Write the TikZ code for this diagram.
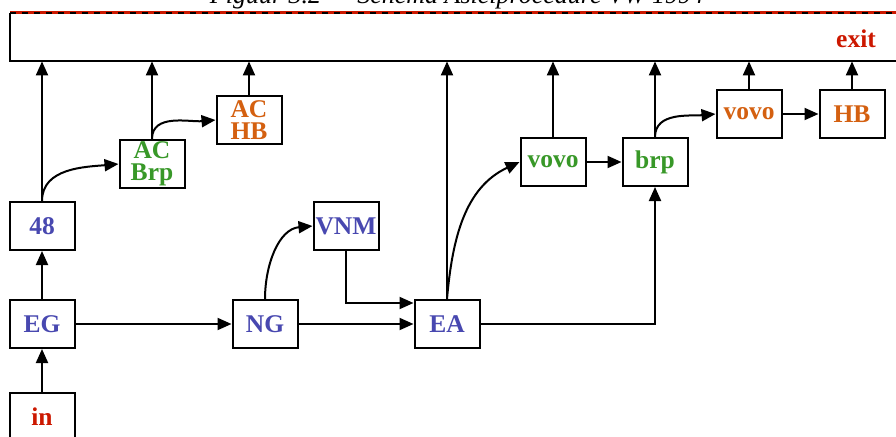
\documentclass[tikz,border=0pt]{standalone}
\usepackage{fontspec}
\setmainfont{Liberation Serif}
\usetikzlibrary{arrows.meta,calc}
\definecolor{blueT}{RGB}{72,72,176}
\definecolor{greenT}{RGB}{56,152,40}
\definecolor{orangeT}{RGB}{212,96,16}
\definecolor{redT}{RGB}{204,24,0}
\tikzset{
  stepbox/.style={draw=black, line width=2pt, fill=white, minimum width=65pt, minimum height=48pt, inner sep=0pt, align=center, font=\fontsize{25.5}{22}\selectfont\bfseries},
  conn/.style={line width=2pt, -{Triangle[length=14pt,width=12pt]}},
  plain/.style={line width=2pt},
}
\begin{document}
\begin{tikzpicture}[x=1pt,y=1pt]
\useasboundingbox (0,0) rectangle (896,-436);
% caption (clipped at top)
\node[anchor=base, font=\fontsize{26}{30}\selectfont\itshape, inner sep=0pt] (cap) at (457,-4) {Figuur 3.2 — Schema Asielprocedure VW 1994};
% exit box
\node[minimum width=920pt, minimum height=48pt, inner sep=0pt, anchor=north west] (exit) at (10,-13) {};
\draw[plain] (exit.north west) -- (exit.south west) -- (exit.south east);
\draw[line width=3pt, redT] (exit.north west) -- (exit.north east);
\draw[line width=1.2pt, black, dash pattern=on 6pt off 6pt, yshift=0.6pt] (exit.north west) -- (exit.north east);
\node[font=\fontsize{25.5}{22}\selectfont\bfseries, text=redT, anchor=base] (exittxt) at (856,-48) {exit};
% nodes
\node[stepbox, text=redT] (in) at (42,-417) {in};
\node[stepbox, text=blueT] (EG) at (42,-324) {EG};
\node[stepbox, text=blueT] (n48) at (42,-226) {48};
\node[stepbox, text=greenT] (ACBrp) at (152,-164) {AC\\Brp};
\node[stepbox, text=orangeT] (ACHB) at (249,-120) {AC\\HB};
\node[stepbox, text=blueT] (NG) at (265,-324) {NG};
\node[stepbox, text=blueT] (VNM) at (346,-226) {VNM};
\node[stepbox, text=blueT] (EA) at (447,-324) {EA};
\node[stepbox, text=greenT] (vovoG) at (553,-162) {vovo};
\node[stepbox, text=greenT] (brp) at (655,-162) {brp};
\node[stepbox, text=orangeT] (vovoO) at (749,-114) {vovo};
\node[stepbox, text=orangeT] (HB) at (852,-114) {HB};
\coordinate (eain) at ([yshift=-4pt]EA.north west);
% connectors
\draw[conn] (in) -- (EG);
\draw[conn] (EG) -- (n48);
\draw[conn] (EG) -- (NG);
\draw[conn] (NG) -- (EA);
\draw[conn] (NG.north) to[out=90,in=185] (VNM.west);
\draw[conn] (VNM.south) |- (eain);
\draw[conn] (EA.east) -| (brp.south);
\draw[conn] (n48.north) -- (n48.north |- exit.south);
\draw[conn] (n48.north) to[out=90,in=185] (ACBrp.west);
\draw[conn] (ACBrp.north) -- (ACBrp.north |- exit.south);
\draw[conn] (ACBrp.north) to[out=90,in=185] (ACHB.west);
\draw[conn] (ACHB.north) -- (ACHB.north |- exit.south);
\draw[conn] (EA.north) -- (EA.north |- exit.south);
\draw[conn] (EA.north) to[out=85,in=205] (vovoG.west);
\draw[conn] (vovoG.north) -- (vovoG.north |- exit.south);
\draw[conn] (vovoG) -- (brp);
\draw[conn] (brp.north) -- (brp.north |- exit.south);
\draw[conn] (brp.north) to[out=90,in=185] (vovoO.west);
\draw[conn] (vovoO.north) -- (vovoO.north |- exit.south);
\draw[conn] (vovoO) -- (HB);
\draw[conn] (HB.north) -- (HB.north |- exit.south);
\end{tikzpicture}
\end{document}
